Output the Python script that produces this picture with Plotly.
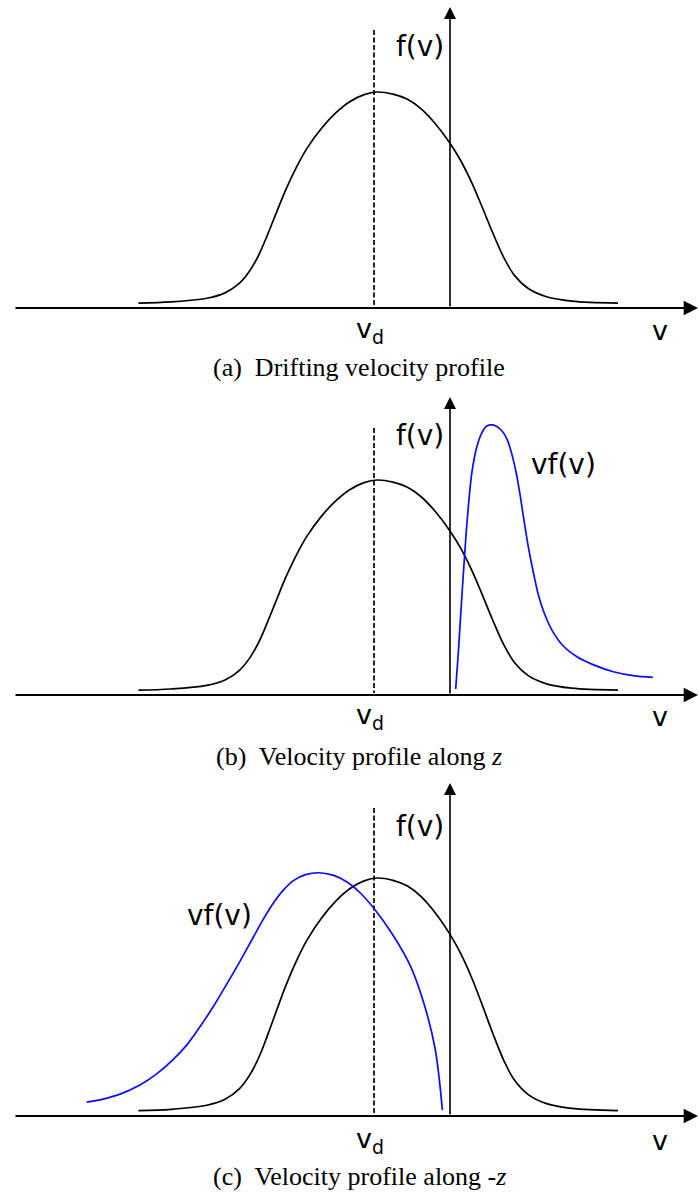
import plotly.graph_objects as go

W, H = 699, 1194

# Drifting distribution f(v); v in units of |v_d|, f normalised to its peak
v_f = [-4.10, -3.67, -3.20, -2.96, -2.77, -2.63, -2.51, -2.40, -2.28, -2.16,
       -2.02, -1.88, -1.69, -1.50, -1.32, -1.13, -0.96, -0.75, -0.56, -0.38,
       -0.19, 0.0, 0.14, 0.28, 0.42, 0.56, 0.71, 0.85, 1.03, 1.27, 1.60, 2.21]
f_v = [0.023, 0.028, 0.045, 0.070, 0.115, 0.175, 0.250, 0.340, 0.445, 0.548,
       0.652, 0.740, 0.832, 0.904, 0.955, 0.988, 1.000, 0.990, 0.966, 0.922,
       0.852, 0.763, 0.683, 0.585, 0.470, 0.350, 0.232, 0.150, 0.090, 0.052,
       0.032, 0.023]

# Flux vf(v) seen along +z
v_pos = [0.075, 0.11, 0.14, 0.175, 0.21, 0.25, 0.29, 0.35, 0.42, 0.48,
         0.55, 0.61, 0.68, 0.75, 0.81, 0.87, 0.92, 0.97, 1.03, 1.10,
         1.16, 1.25, 1.36, 1.49, 1.67, 1.89, 2.15, 2.41, 2.67]
vf_pos = [0.028, 0.20, 0.37, 0.56, 0.74, 0.91, 1.04, 1.15, 1.22, 1.25,
          1.256, 1.25, 1.23, 1.19, 1.125, 1.035, 0.935, 0.82, 0.69, 0.565,
          0.47, 0.372, 0.29, 0.228, 0.178, 0.140, 0.108, 0.090, 0.082]

# Flux vf(v) seen along -z
v_neg = [-4.78, -4.58, -4.34, -4.08, -3.86, -3.64, -3.46, -3.29, -3.11, -2.94,
         -2.76, -2.59, -2.46, -2.33, -2.19, -2.06, -1.89, -1.73, -1.54, -1.36,
         -1.18, -1.01, -0.76, -0.52, -0.35, -0.20, -0.10]
vf_neg = [0.058, 0.070, 0.092, 0.130, 0.177, 0.238, 0.300, 0.375, 0.462, 0.553,
          0.652, 0.750, 0.825, 0.892, 0.950, 0.989, 1.015, 1.022, 1.012, 0.984,
          0.937, 0.876, 0.765, 0.630, 0.480, 0.290, 0.025]

V_DRIFT = -1.0

captions = [
    "(a)  Drifting velocity profile",
    "(b)  Velocity profile along <i>z</i>",
    "(c)  Velocity profile along -<i>z</i>",
]

# Panel geometry in pixels: top, bottom, baseline, pixels per unit of f
panels = [
    dict(top=0, bottom=388, base=308, scale=216, arrow_top=7, dash_top=30,
         fl_y=46, lab_y=330, cap_y=367),
    dict(top=388, bottom=776, base=695, scale=215, arrow_top=397, dash_top=428,
         fl_y=436, lab_y=717, cap_y=756),
    dict(top=776, bottom=1194, base=1116, scale=238, arrow_top=783, dash_top=808,
         fl_y=826, lab_y=1140, cap_y=1176),
]
panels[1].update(flux=(v_pos, vf_pos), flux_pos=(529, 465))
panels[2].update(flux=(v_neg, vf_neg), flux_pos=(185, 915))

X0_PX, X_SCALE = 450, 76
x_range = [(0 - X0_PX) / X_SCALE, (W - X0_PX) / X_SCALE]


def vx(px):
    return (px - X0_PX) / X_SCALE


SANS = "DejaVu Sans"
SERIF = "Liberation Serif, Times New Roman, serif"
BLACK = "#000000"
BLUE = "#0a0aff"

fig = go.Figure()
layout = dict(width=W, height=H, margin=dict(l=0, r=0, t=0, b=0),
              paper_bgcolor="white", plot_bgcolor="white", showlegend=False,
              autosize=False)
annotations = []

for i, p in enumerate(panels):
    n = "" if i == 0 else str(i + 1)
    xa, ya = "x" + n, "y" + n

    def fy(px, p=p):
        return (p["base"] - px) / p["scale"]

    dom = [1 - p["bottom"] / H, 1 - p["top"] / H]
    layout["xaxis" + n] = dict(domain=[0, 1], range=x_range, visible=False,
                               anchor=ya, fixedrange=True)
    layout["yaxis" + n] = dict(domain=dom, range=[fy(p["bottom"]), fy(p["top"])],
                               visible=False, anchor=xa, fixedrange=True)

    # drift velocity marker
    fig.add_trace(go.Scatter(x=[V_DRIFT, V_DRIFT], y=[fy(p["dash_top"]), fy(p["base"] - 2)],
                             mode="lines", xaxis=xa, yaxis=ya,
                             line=dict(color=BLACK, width=1.7, dash="5px,2.5px")))

    # f(v)
    fig.add_trace(go.Scatter(x=v_f, y=f_v, mode="lines", xaxis=xa, yaxis=ya,
                             line=dict(color=BLACK, width=1.7, shape="spline",
                                       smoothing=1.0)))

    # vf(v)
    if "flux" in p:
        fv, ff = p["flux"]
        fig.add_trace(go.Scatter(x=fv, y=ff, mode="lines", xaxis=xa, yaxis=ya,
                                 line=dict(color=BLUE, width=1.7, shape="spline",
                                           smoothing=1.0)))

    # horizontal axis with arrow
    annotations.append(dict(x=vx(W - 1), y=0, ax=vx(14), ay=0, xref=xa, yref=ya,
                            axref=xa, ayref=ya, showarrow=True, arrowhead=2,
                            arrowsize=1.3, arrowwidth=2.2, arrowcolor=BLACK, text=""))
    # vertical axis with arrow
    annotations.append(dict(x=0, y=fy(p["arrow_top"]), ax=0, ay=0, xref=xa, yref=ya,
                            axref=xa, ayref=ya, showarrow=True, arrowhead=2,
                            arrowsize=1.5, arrowwidth=1.6, arrowcolor=BLACK, text=""))

    # labels
    annotations.append(dict(x=vx(446), y=fy(p["fl_y"]), xref=xa, yref=ya, text="f(v)",
                            showarrow=False, xanchor="right", yanchor="middle",
                            font=dict(family=SANS, size=28, color=BLACK)))
    if "flux" in p:
        fx, fyy = p["flux_pos"]
        annotations.append(dict(x=vx(fx), y=fy(fyy), xref=xa, yref=ya, text="vf(v)",
                                showarrow=False, xanchor="left", yanchor="middle",
                                font=dict(family=SANS, size=28, color=BLACK)))
    annotations.append(dict(x=V_DRIFT - 0.05, y=fy(p["lab_y"]), xref=xa, yref=ya,
                            text="v<sub>d</sub>", showarrow=False, xanchor="center",
                            yanchor="middle", font=dict(family=SANS, size=27, color=BLACK)))
    annotations.append(dict(x=vx(660), y=fy(p["lab_y"]), xref=xa, yref=ya, text="v",
                            showarrow=False, xanchor="center", yanchor="middle",
                            font=dict(family=SANS, size=27, color=BLACK)))
    annotations.append(dict(x=359 / W, y=1 - p["cap_y"] / H, xref="paper", yref="paper",
                            text=captions[i], showarrow=False, xanchor="center",
                            yanchor="middle", font=dict(family=SERIF, size=26, color=BLACK)))

layout["annotations"] = annotations
fig.update_layout(**layout)
fig.write_html("out.html")
